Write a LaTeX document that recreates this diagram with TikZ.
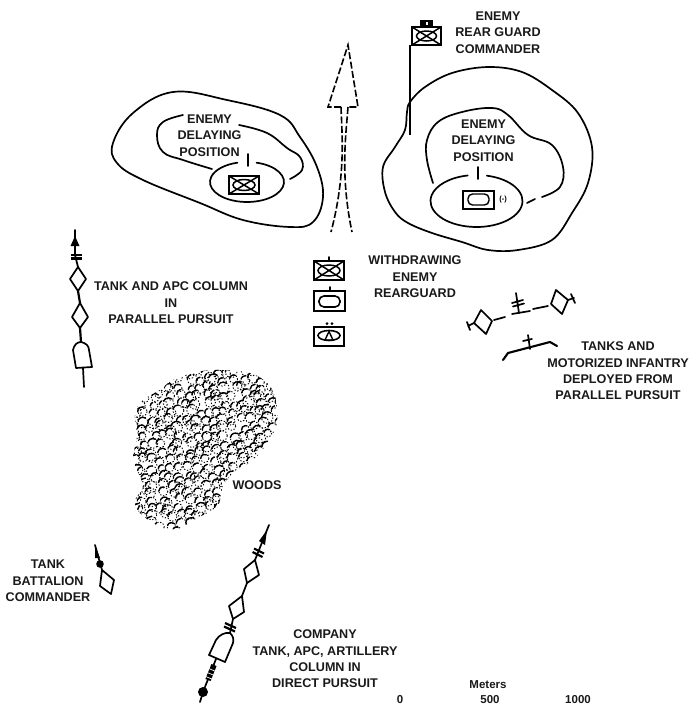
\documentclass[tikz,border=0pt]{standalone}
\usepackage{fontspec}
\setmainfont{Liberation Sans}
\usetikzlibrary{calc}
\tikzset{
  lbl/.style={font=\fontsize{12.6}{16.4}\selectfont\bfseries,align=center,inner sep=0pt,text=black!90},
  scalelbl/.style={font=\fontsize{11.5}{12}\selectfont\bfseries,inner sep=0pt,text=black!90},
  contour/.style={line width=1.7pt,line cap=round,line join=round},
  unitbox/.style={line width=2.4pt,line join=miter},
  unitthin/.style={line width=1.5pt},
  mark line/.style={line width=1.7pt,line join=round,line cap=round},
  dashline/.style={line width=1.6pt,dash pattern=on 7pt off 2.5pt},
}
\begin{document}
\begin{tikzpicture}[x=1pt,y=-1pt]
\useasboundingbox (0,0) rectangle (694,705);
% left hill
\draw[contour] plot[smooth cycle,tension=0.65] coordinates {(173,92)(227,100)(280,115)(300,137)(317,167)(323,197)(313,222)(290,227)(243,220)(200,203)(143,180)(117,163)(113,143)(133,113)};
\draw[contour] plot[smooth,tension=0.7] coordinates {(183,115)(163,122)(157,135)(163,152)(183,160)(212,169)};
\draw[contour] plot[smooth,tension=0.7] coordinates {(239,125)(267,133)(287,148)(300,157)(302,170)(290,179)};
\draw[contour] (247,182) ++(285:37 and 20) arc[start angle=285,delta angle=330,x radius=37,y radius=20];
\draw[contour] (248,154) -- (248,166);
\draw[unitbox] (229,176) rectangle (259,194);
\draw[unitthin] (229,176) -- (259,194) (229,194) -- (259,176);
\draw[unitthin] (244,185) ellipse (11 and 5.5);
% right hill
\draw[contour] plot[smooth cycle,tension=0.6] coordinates {(410,102)(425,87)(452,73)(488,67)(522,72)(552,90)(578,113)(592,147)(588,183)(572,213)(552,240)(518,250)(488,250)(462,242)(432,233)(408,223)(395,212)(385,192)(383,167)(395,147)(405,130)(407,112)};
\draw[contour] plot[smooth,tension=0.65] coordinates {(433,183)(427,160)(427,140)(438,122)(462,112)(492,108)(508,115)(528,135)(552,145)(563,167)(560,187)(542,197)};
\draw[contour] (535,199) -- (527,203);
\draw[contour] (476.5,201) ++(283:46 and 26) arc[start angle=283,delta angle=336,x radius=46,y radius=26];
\draw[contour] (478,167) -- (478,179);
\draw[line width=1.8pt] (463,191) rectangle (494,209);
\draw[line width=1.4pt,rounded corners=4.5pt] (468,194) rectangle (489,205);
\node[font=\fontsize{7.5}{8}\selectfont\bfseries,inner sep=0pt] (minus) at (503,200) {(-)};
% flag
\draw[line width=1.7pt] (410,45) -- (410,135);
\draw[unitbox] (412,27) rectangle (441,45);
\fill (420,20) rectangle (433,27);
\fill[white] (425.5,21.5) rectangle (427.5,25);
\draw[unitthin] (412,27) -- (441,45) (412,45) -- (441,27);
\draw[unitthin] (426.5,36) ellipse (10 and 5);
% pursuit arrow
\draw[dashline] (341,107) -- (328,107) -- (348,45) -- (358,107) -- (348,107);
\draw[dashline] (341,107) .. controls (342,135) and (346,175) .. (331,232);
\draw[dashline] (348,107) .. controls (346,135) and (340,175) .. (352,232);
% withdrawing symbols
\draw[unitbox] (314,261) rectangle (344,280);
\draw[unitthin] (314,261) -- (344,280) (314,280) -- (344,261);
\draw[unitthin] (329,270.5) ellipse (11 and 5.5);
\draw[mark line] (329,257) -- (329,261);
\draw[unitbox] (314,291) rectangle (345,311);
\draw[line width=1.6pt,rounded corners=5pt] (319,296) rectangle (340,307);
\draw[mark line] (330,287) -- (330,291);
\draw[unitbox] (314,327) rectangle (344,346);
\draw[line width=1.6pt] (329,335.5) ellipse (11 and 5);
\draw[line width=1.4pt] (325,340) -- (329,331.5) -- (333,340) -- cycle;
\fill (327,323.5) circle (1.5) (332,323.5) circle (1.5);
% tank and APC column, parallel
\draw[mark line] (75,230) -- (75,255);
\fill (75,236) -- (79.5,246) -- (70.5,246) -- cycle;
\draw[line width=2.2pt] (71,255) -- (82,255) (71,258.5) -- (82,258.5);
\draw[mark line] (75,255) -- (78,267);
\draw[mark line] (78,267) -- (86,279) -- (78,291) -- (70,279) -- cycle;
\draw[line width=2.2pt] (78,291) -- (80,303);
\draw[mark line] (80,303) -- (88,317) -- (80,328) -- (72,317) -- cycle;
\draw[line width=2.2pt] (80,328) -- (81,342);
\draw[mark line] (76,368) -- (73,350) .. controls (74,345) and (77,342) .. (81,342) .. controls (86,343) and (89,346) .. (89,350) -- (92,367) -- cycle;
\draw[mark line] (83,368) -- (84,387);
% deployed from parallel pursuit
\draw[mark line] (481,310) -- (492,321) -- (486,334) -- (474,323) -- cycle;
\draw[mark line] (474,323) -- (468,326) (467,322) -- (470,330);
\draw[mark line] (494,320) -- (505,317) (512,314) -- (530,311) (533,309) -- (548,306);
\draw[mark line] (516,293) -- (519,313) (512,303) -- (523,300) (513,306.5) -- (524,303.5);
\draw[mark line] (556,290) -- (568,300) -- (562,314) -- (551,304) -- cycle;
\draw[mark line] (568,300) -- (574,298) (571,294) -- (575,303);
\draw[line width=2.1pt,line join=round,line cap=round] (503,360) -- (508,353) -- (550,342) -- (557,346);
\draw[mark line] (528,335) -- (530,349) (523,341) -- (532,339);
% woods
\begin{scope}
\clip plot[smooth cycle,tension=0.6] coordinates {(173,380)(197,372)(220,370)(250,373)(267,383)(275,397)(277,423)(267,443)(253,460)(233,473)(223,487)(217,507)(197,518)(180,528)(163,528)(140,513)(135,500)(143,487)(137,470)(133,457)(137,437)(135,413)(143,400)(160,390)};
\pgfmathsetseed{11}
\foreach \gx in {126,135,...,285}{
  \foreach \gy in {364,372,...,534}{
    \pgfmathsetmacro{\cx}{\gx+rand*3.5}
    \pgfmathsetmacro{\cy}{\gy+rand*3}
    \pgfmathsetmacro{\rr}{3.8+rnd*2}
    \pgfmathsetmacro{\sa}{170+rnd*40}
    \pgfmathsetmacro{\da}{50+rnd*70}
    \draw[line width=0.9pt,dash pattern=on 1.3pt off 1.7pt] (\cx,\cy) circle (\rr);
    \draw[line width=1.35pt,line cap=round] (\cx,\cy) ++(\sa:\rr) arc[start angle=\sa,delta angle=\da,radius=\rr];
  }
}
\end{scope}
% tank battalion commander
\draw[mark line] (95,545) -- (102,570);
\fill (95,545) -- (100,558) -- (95,558) -- cycle;
\fill (100,564) circle (3.8);
\draw[mark line] (102,570) -- (114,580) -- (111,594) -- (100,586) -- cycle;
% direct pursuit column
\draw[mark line] (269,525) -- (255,560);
\fill (267,530) -- (265,545) -- (259,541) -- cycle;
\draw[line width=2.2pt] (254,548.5) -- (264,553.5) (252.5,552) -- (262.5,557);
\draw[mark line] (255,560) -- (259,575) -- (247,583) -- (244,569) -- cycle;
\draw[mark line] (247,583) -- (242,596);
\draw[mark line] (242,596) -- (244,612) -- (233,619) -- (229,606) -- cycle;
\draw[mark line] (233,619) -- (230,633);
\draw[line width=2.2pt] (225,623) -- (236,628) (224,626.5) -- (235,631.5);
\draw[mark line] (209,655) -- (216,640) .. controls (219,635) and (225,632) .. (230,633) .. controls (233,636) and (234,639) .. (233,643) -- (225,662) -- cycle;
\draw[mark line] (216,659) -- (203,692);
\draw[line width=5.5pt] (214,665) -- (208,680);
\draw[white,line width=0.7pt] (207.5,668) -- (216,671.5) (206,672) -- (214.5,675.5) (204.5,676) -- (213,679.5);
\fill (203,692) circle (5);
\draw[mark line] (203,692) -- (200,702);
% labels
\node[lbl] (leftpos) at (209.5,135.5) {ENEMY\\DELAYING\\POSITION};
\node[lbl] (rightpos) at (483.5,140.5) {ENEMY\\DELAYING\\POSITION};
\node[lbl] (rearcmd) at (498,32.5) {ENEMY\\REAR GUARD\\COMMANDER};
\node[lbl] (withdraw) at (415,277) {WITHDRAWING\\ENEMY\\REARGUARD};
\node[lbl] (parallel) at (171,303) {TANK AND APC COLUMN\\IN\\PARALLEL PURSUIT};
\node[lbl] (deployed) at (618,371) {TANKS AND\\MOTORIZED INFANTRY\\DEPLOYED FROM\\PARALLEL PURSUIT};
\node[lbl] (woods) at (257,485) {WOODS};
\node[lbl] (battcmd) at (48,581) {TANK\\BATTALION\\COMMANDER};
\node[lbl] (company) at (325,659) {COMPANY\\TANK, APC, ARTILLERY\\COLUMN IN\\DIRECT PURSUIT};
\node[scalelbl] (meters) at (488,685) {Meters};
\node[scalelbl] (s0) at (400,700) {0};
\node[scalelbl] (s500) at (490,700) {500};
\node[scalelbl] (s1000) at (578,700) {1000};
\end{tikzpicture}
\end{document}
